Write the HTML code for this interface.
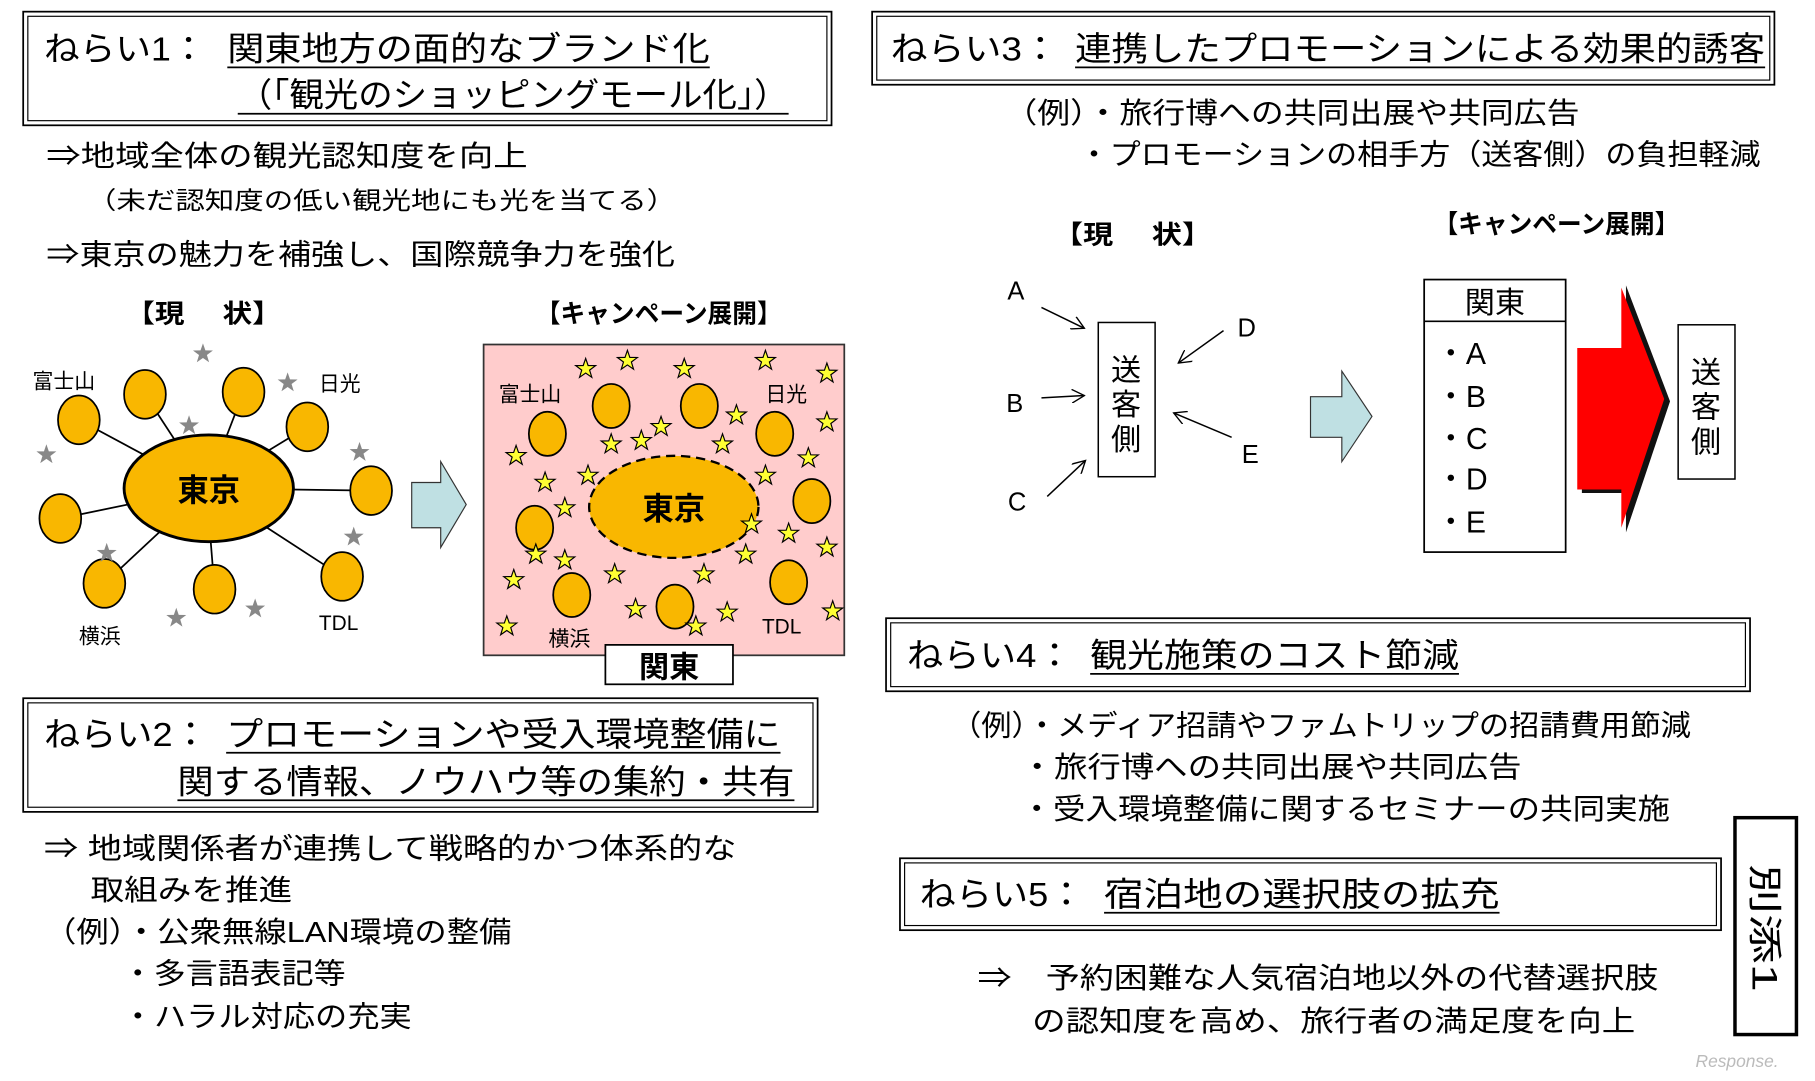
<!DOCTYPE html>
<html><head><meta charset="utf-8"><style>
html,body{margin:0;padding:0;background:#fff;width:1815px;height:1081px;overflow:hidden}
svg text{font-family:"Liberation Sans","Noto Sans CJK JP",sans-serif;fill:#000}
</style></head><body>
<svg width="1815" height="1081" viewBox="0 0 1565 932" xmlns="http://www.w3.org/2000/svg">
<defs>
<polygon id="st" points="0,-9 2.1,-2.9 8.6,-2.8 3.4,1.1 5.3,7.3 0,3.6 -5.3,7.3 -3.4,1.1 -8.6,-2.8 -2.1,-2.9"/>
<marker id="ar" viewBox="0 0 12 12" refX="11" refY="6" markerWidth="12" markerHeight="12" markerUnits="userSpaceOnUse" orient="auto"><path d="M0,0 L11,6 L0,12" fill="none" stroke="#000" stroke-width="1.2"/></marker>
</defs>
<rect width="1565" height="932" fill="#fff"/>

<rect x="20" y="10" width="697" height="98" fill="none" stroke="#000" stroke-width="1.5"/>
<rect x="24" y="14" width="689" height="90" fill="none" stroke="#000" stroke-width="1"/>
<text x="38" y="52" font-size="29" textLength="140" lengthAdjust="spacingAndGlyphs">ねらい1：</text>
<text x="196" y="52" font-size="29" textLength="416" lengthAdjust="spacingAndGlyphs">関東地方の面的なブランド化</text>
<line x1="196" y1="58" x2="612" y2="58" stroke="#000" stroke-width="1.5"/>
<text x="205" y="92" font-size="29" textLength="475" lengthAdjust="spacingAndGlyphs">（「観光のショッピングモール化」）</text>
<line x1="205" y1="98" x2="680" y2="98" stroke="#000" stroke-width="1.5"/>

<text x="40" y="143" font-size="25" textLength="415" lengthAdjust="spacingAndGlyphs">⇒地域全体の観光認知度を向上</text>
<text x="75" y="180" font-size="21" textLength="508" lengthAdjust="spacingAndGlyphs">（未だ認知度の低い観光地にも光を当てる）</text>
<text x="40" y="228" font-size="25" textLength="542" lengthAdjust="spacingAndGlyphs">⇒東京の魅力を補強し、国際競争力を強化</text>

<text x="108" y="278" font-size="22" font-weight="bold" textLength="135" lengthAdjust="spacingAndGlyphs">【現　 状】</text>
<text x="462" y="278" font-size="22" font-weight="bold" textLength="212" lengthAdjust="spacingAndGlyphs">【キャンペーン展開】</text>

<g stroke="#000" stroke-width="1.5">
<line x1="178" y1="421" x2="68" y2="362"/><line x1="178" y1="421" x2="125" y2="340"/>
<line x1="178" y1="421" x2="210" y2="338"/><line x1="178" y1="421" x2="265" y2="368"/>
<line x1="178" y1="421" x2="320" y2="423"/><line x1="178" y1="421" x2="295" y2="497"/>
<line x1="178" y1="421" x2="185" y2="508"/><line x1="178" y1="421" x2="90" y2="503"/>
<line x1="178" y1="421" x2="52" y2="447"/>
</g>
<g fill="#f9b700" stroke="#000" stroke-width="1.5">
<ellipse cx="68" cy="362" rx="18" ry="21"/><ellipse cx="125" cy="340" rx="18" ry="21"/>
<ellipse cx="210" cy="338" rx="18" ry="21"/><ellipse cx="265" cy="368" rx="18" ry="21"/>
<ellipse cx="320" cy="423" rx="18" ry="21"/><ellipse cx="295" cy="497" rx="18" ry="21"/>
<ellipse cx="185" cy="508" rx="18" ry="21"/><ellipse cx="90" cy="503" rx="18" ry="21"/>
<ellipse cx="52" cy="447" rx="18" ry="21"/>
<ellipse cx="180" cy="421" rx="73" ry="46" stroke-width="2.5"/>
</g>
<text x="180" y="432" font-size="27" font-weight="bold" text-anchor="middle">東京</text>
<g fill="#888">
<use href="#st" x="175" y="305"/><use href="#st" x="248" y="330"/><use href="#st" x="163" y="367"/>
<use href="#st" x="310" y="390"/><use href="#st" x="40" y="392"/><use href="#st" x="305" y="463"/>
<use href="#st" x="92" y="477"/><use href="#st" x="220" y="525"/><use href="#st" x="152" y="533"/>
</g>
<text x="28" y="335" font-size="18">富士山</text>
<text x="275" y="337" font-size="18">日光</text>
<text x="68" y="555" font-size="18">横浜</text>
<text x="275" y="543" font-size="18">TDL</text>

<polygon points="355,416 380,416 380,398 402,435 380,472 380,455 355,455" fill="#bfe0e3" stroke="#333" stroke-width="1"/>

<rect x="417" y="297" width="311" height="268" fill="#ffcccc" stroke="#333" stroke-width="1.5"/>
<g fill="#f9b700" stroke="#000" stroke-width="1.5">
<ellipse cx="527" cy="350" rx="16" ry="19"/><ellipse cx="603" cy="350" rx="16" ry="19"/>
<ellipse cx="472" cy="374" rx="16" ry="19"/><ellipse cx="668" cy="374" rx="16" ry="19"/>
<ellipse cx="700" cy="432" rx="16" ry="19"/><ellipse cx="461" cy="455" rx="16" ry="19"/>
<ellipse cx="680" cy="502" rx="16" ry="19"/><ellipse cx="493" cy="513" rx="16" ry="19"/>
<ellipse cx="582" cy="523" rx="16" ry="19"/>
<ellipse cx="581" cy="437" rx="73" ry="44" stroke-width="2" stroke-dasharray="8,5"/>
</g>
<text x="581" y="448" font-size="27" font-weight="bold" text-anchor="middle">東京</text>
<g fill="#ffff33" stroke="#000" stroke-width="1">
<use href="#st" x="505" y="318"/><use href="#st" x="541" y="311"/><use href="#st" x="590" y="318"/>
<use href="#st" x="660" y="311"/><use href="#st" x="713" y="322"/><use href="#st" x="635" y="358"/>
<use href="#st" x="713" y="364"/><use href="#st" x="553" y="380"/><use href="#st" x="570" y="368"/>
<use href="#st" x="527" y="383"/><use href="#st" x="623" y="383"/><use href="#st" x="445" y="393"/>
<use href="#st" x="470" y="416"/><use href="#st" x="507" y="410"/><use href="#st" x="660" y="410"/>
<use href="#st" x="697" y="395"/><use href="#st" x="648" y="452"/><use href="#st" x="680" y="460"/>
<use href="#st" x="713" y="472"/><use href="#st" x="462" y="478"/><use href="#st" x="487" y="483"/>
<use href="#st" x="443" y="500"/><use href="#st" x="530" y="495"/><use href="#st" x="607" y="495"/>
<use href="#st" x="548" y="525"/><use href="#st" x="627" y="528"/><use href="#st" x="600" y="540"/>
<use href="#st" x="437" y="540"/><use href="#st" x="718" y="527"/><use href="#st" x="643" y="478"/>
<use href="#st" x="487" y="438"/>
</g>
<text x="430" y="346" font-size="18">富士山</text>
<text x="660" y="346" font-size="18">日光</text>
<text x="473" y="557" font-size="18">横浜</text>
<text x="657" y="546" font-size="18">TDL</text>
<rect x="522" y="556" width="110" height="34" fill="#fff" stroke="#000" stroke-width="1.5"/>
<text x="577" y="584" font-size="26" font-weight="bold" text-anchor="middle">関東</text>

<rect x="20" y="602" width="685" height="98" fill="none" stroke="#000" stroke-width="1.5"/>
<rect x="24" y="606" width="677" height="90" fill="none" stroke="#000" stroke-width="1"/>
<text x="38" y="643" font-size="29" textLength="142" lengthAdjust="spacingAndGlyphs">ねらい2：</text>
<text x="195" y="643" font-size="29" textLength="478" lengthAdjust="spacingAndGlyphs">プロモーションや受入環境整備に</text>
<line x1="195" y1="649" x2="673" y2="649" stroke="#000" stroke-width="1.5"/>
<text x="153" y="684" font-size="29" textLength="532" lengthAdjust="spacingAndGlyphs">関する情報、ノウハウ等の集約・共有</text>
<line x1="153" y1="690" x2="685" y2="690" stroke="#000" stroke-width="1.5"/>

<text x="38" y="740" font-size="25" textLength="597" lengthAdjust="spacingAndGlyphs">⇒ 地域関係者が連携して戦略的かつ体系的な</text>
<text x="78" y="776" font-size="25" textLength="174" lengthAdjust="spacingAndGlyphs">取組みを推進</text>
<text x="38" y="812" font-size="25" textLength="403" lengthAdjust="spacingAndGlyphs">（例）・公衆無線LAN環境の整備</text>
<text x="105" y="848" font-size="25" textLength="193" lengthAdjust="spacingAndGlyphs">・多言語表記等</text>
<text x="105" y="885" font-size="25" textLength="250" lengthAdjust="spacingAndGlyphs">・ハラル対応の充実</text>

<rect x="752" y="10" width="778" height="63" fill="none" stroke="#000" stroke-width="1.5"/>
<rect x="756" y="14" width="770" height="55" fill="none" stroke="#000" stroke-width="1"/>
<text x="768" y="52" font-size="29" textLength="145" lengthAdjust="spacingAndGlyphs">ねらい3：</text>
<text x="927" y="52" font-size="29" textLength="595" lengthAdjust="spacingAndGlyphs">連携したプロモーションによる効果的誘客</text>
<line x1="927" y1="58" x2="1522" y2="58" stroke="#000" stroke-width="1.5"/>
<text x="866" y="106" font-size="25" textLength="496" lengthAdjust="spacingAndGlyphs">（例）・旅行博への共同出展や共同広告</text>
<text x="930" y="142" font-size="25" textLength="588" lengthAdjust="spacingAndGlyphs">・プロモーションの相手方（送客側）の負担軽減</text>

<text x="908" y="210" font-size="22" font-weight="bold" textLength="137" lengthAdjust="spacingAndGlyphs">【現　 状】</text>
<text x="1236" y="201" font-size="22" font-weight="bold" textLength="212" lengthAdjust="spacingAndGlyphs">【キャンペーン展開】</text>

<text x="876" y="258" font-size="22" text-anchor="middle">A</text>
<text x="875" y="355" font-size="22" text-anchor="middle">B</text>
<text x="877" y="440" font-size="22" text-anchor="middle">C</text>
<text x="1075" y="290" font-size="22" text-anchor="middle">D</text>
<text x="1078" y="399" font-size="22" text-anchor="middle">E</text>
<g stroke="#000" stroke-width="1.3" marker-end="url(#ar)">
<line x1="898" y1="265" x2="935" y2="283"/>
<line x1="898" y1="343" x2="935" y2="341"/>
<line x1="903" y1="428" x2="936" y2="397"/>
<line x1="1055" y1="285" x2="1016" y2="313"/>
<line x1="1062" y1="377" x2="1012" y2="356"/>
</g>
<rect x="947" y="278" width="49" height="133" fill="#fff" stroke="#000" stroke-width="1.3"/>
<text x="971" y="328" font-size="26" text-anchor="middle">送</text>
<text x="971" y="358" font-size="26" text-anchor="middle">客</text>
<text x="971" y="388" font-size="26" text-anchor="middle">側</text>

<polygon points="1130,342 1157,342 1157,320 1183,359 1157,398 1157,377 1130,377" fill="#bfe0e3" stroke="#333" stroke-width="1"/>

<rect x="1228" y="241" width="122" height="235" fill="#fff" stroke="#000" stroke-width="1.5"/>
<line x1="1228" y1="277" x2="1350" y2="277" stroke="#000" stroke-width="1.5"/>
<text x="1289" y="270" font-size="26" text-anchor="middle">関東</text>
<g font-size="26">
<text x="1238" y="314">・A</text><text x="1238" y="351">・B</text><text x="1238" y="387">・C</text>
<text x="1238" y="422">・D</text><text x="1238" y="459">・E</text>
</g>
<polygon points="1364,303 1402,303 1402,246 1440,346 1402,459 1402,425 1364,425" fill="#111"/>
<polygon points="1360,300 1398,300 1398,248 1435,344 1398,455 1398,422 1360,422" fill="#ff0000"/>
<rect x="1447" y="280" width="49" height="133" fill="#fff" stroke="#000" stroke-width="1.3"/>
<text x="1471" y="330" font-size="26" text-anchor="middle">送</text>
<text x="1471" y="360" font-size="26" text-anchor="middle">客</text>
<text x="1471" y="390" font-size="26" text-anchor="middle">側</text>

<rect x="764" y="533" width="745" height="63" fill="none" stroke="#000" stroke-width="1.5"/>
<rect x="768" y="537" width="737" height="55" fill="none" stroke="#000" stroke-width="1"/>
<text x="782" y="575" font-size="29" textLength="143" lengthAdjust="spacingAndGlyphs">ねらい4：</text>
<text x="940" y="575" font-size="29" textLength="318" lengthAdjust="spacingAndGlyphs">観光施策のコスト節減</text>
<line x1="940" y1="581" x2="1258" y2="581" stroke="#000" stroke-width="1.5"/>
<text x="820" y="634" font-size="25" textLength="638" lengthAdjust="spacingAndGlyphs">（例）・メディア招請やファムトリップの招請費用節減</text>
<text x="880" y="670" font-size="25" textLength="432" lengthAdjust="spacingAndGlyphs">・旅行博への共同出展や共同広告</text>
<text x="880" y="706" font-size="25" textLength="560" lengthAdjust="spacingAndGlyphs">・受入環境整備に関するセミナーの共同実施</text>

<rect x="776" y="740" width="708" height="62" fill="none" stroke="#000" stroke-width="1.5"/>
<rect x="780" y="744" width="700" height="54" fill="none" stroke="#000" stroke-width="1"/>
<text x="793" y="781" font-size="29" textLength="142" lengthAdjust="spacingAndGlyphs">ねらい5：</text>
<text x="952" y="781" font-size="29" textLength="341" lengthAdjust="spacingAndGlyphs">宿泊地の選択肢の拡充</text>
<line x1="952" y1="787" x2="1293" y2="787" stroke="#000" stroke-width="1.5"/>
<text x="843" y="852" font-size="25" textLength="587" lengthAdjust="spacingAndGlyphs">⇒　予約困難な人気宿泊地以外の代替選択肢</text>
<text x="890" y="889" font-size="25" textLength="520" lengthAdjust="spacingAndGlyphs">の認知度を高め、旅行者の満足度を向上</text>

<rect x="1496" y="705" width="53" height="187" fill="#fff" stroke="#000" stroke-width="3"/>
<text x="0" y="0" font-size="30" transform="translate(1511,745) rotate(90)" textLength="110" lengthAdjust="spacingAndGlyphs">別添1</text>

<text x="1462" y="920" font-size="15" style="fill:#bbb;font-style:italic">Response.</text>
</svg>
</body></html>
